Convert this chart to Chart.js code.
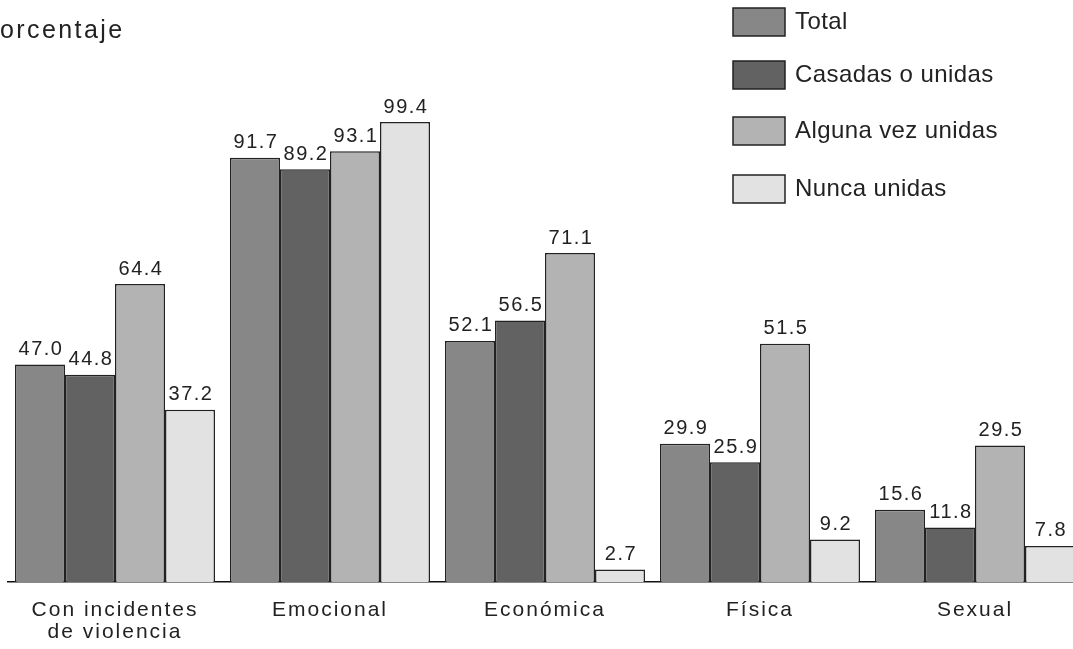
<!DOCTYPE html>
<html>
<head>
<meta charset="utf-8">
<script src="https://cdn.jsdelivr.net/npm/chart.js@4"></script>
<style>
  html, body { margin: 0; padding: 0; background: #fff; overflow: hidden; }
  #wrap { position: relative; width: 1090px; height: 649px; }
</style>
</head>
<body>
<div id="wrap"><canvas id="grafico"></canvas></div>
<script>
const categorias = [["Con incidentes", "de violencia"], "Emocional", "Económica", "Física", "Sexual"];
const total = [47.0, 91.7, 52.1, 29.9, 15.6];
const casadas = [44.8, 89.2, 56.5, 25.9, 11.8];
const algunaVez = [64.4, 93.1, 71.1, 51.5, 29.5];
const nunca = [37.2, 99.4, 2.7, 9.2, 7.8];

const fuente = "'Liberation Sans', Arial, sans-serif";

// etiquetas de valor, titulo y leyenda dibujados a mano
const extras = {
  id: "extras",
  beforeDraw(chart) {
    // las etiquetas del eje x van algo espaciadas
    chart.ctx.letterSpacing = "2px";
  },
  afterDatasetsDraw(chart) {
    const ctx = chart.ctx;
    ctx.save();
    ctx.fillStyle = "#222";
    ctx.font = "20px " + fuente;
    ctx.letterSpacing = "1.5px";
    ctx.textAlign = "center";
    ctx.textBaseline = "middle";
    chart.data.datasets.forEach((ds, i) => {
      chart.getDatasetMeta(i).data.forEach((bar, j) => {
        ctx.fillText(ds.data[j].toFixed(1), bar.x + 1, bar.y - 15);
      });
    });

    // titulo del eje (recortado como en el original)
    ctx.font = "25px " + fuente;
    ctx.letterSpacing = "2.4px";
    ctx.textAlign = "left";
    const p = ctx.measureText("P").width;
    ctx.fillText("Porcentaje", -p, 31);

    // leyenda
    ctx.font = "24px " + fuente;
    ctx.letterSpacing = "0.4px";
    const filasY = [22, 75, 131, 189];
    chart.data.datasets.forEach((ds, i) => {
      const y = filasY[i];
      ctx.fillStyle = ds.backgroundColor;
      ctx.fillRect(733, y - 14, 52, 28);
      ctx.strokeStyle = "#222";
      ctx.lineWidth = 1.5;
      ctx.strokeRect(733, y - 14, 52, 28);
      ctx.fillStyle = "#222";
      ctx.fillText(ds.label, 795, y);
    });
    ctx.restore();
  }
};

const ctx = document.getElementById("grafico").getContext("2d");
new Chart(ctx, {
  type: "bar",
  data: {
    labels: categorias,
    datasets: [
      { label: "Total", data: total, backgroundColor: "#878787" },
      { label: "Casadas o unidas", data: casadas, backgroundColor: "#626262" },
      { label: "Alguna vez unidas", data: algunaVez, backgroundColor: "#b3b3b3" },
      { label: "Nunca unidas", data: nunca, backgroundColor: "#e2e2e2" }
    ].map(d => Object.assign(d, {
      borderColor: "#222",
      borderWidth: 1.5,
      categoryPercentage: 200 / 215,
      barPercentage: 1
    }))
  },
  options: {
    responsive: true,
    maintainAspectRatio: false,
    animation: false,
    layout: { padding: { top: 73, left: 7.5, right: 7.5, bottom: 0 } },
    scales: {
      x: {
        grid: { display: false, drawTicks: false },
        border: { display: true, color: "#111", width: 1.5 },
        ticks: { color: "#222", font: { family: fuente, size: 21, lineHeight: 22 / 21 }, padding: 17, maxRotation: 0 },
        afterFit: s => { s.height = 67; }
      },
      y: {
        display: false,
        min: 0,
        max: 110
      }
    },
    plugins: {
      legend: { display: false },
      tooltip: { enabled: false }
    }
  },
  plugins: [extras]
});
</script>
</body>
</html>
